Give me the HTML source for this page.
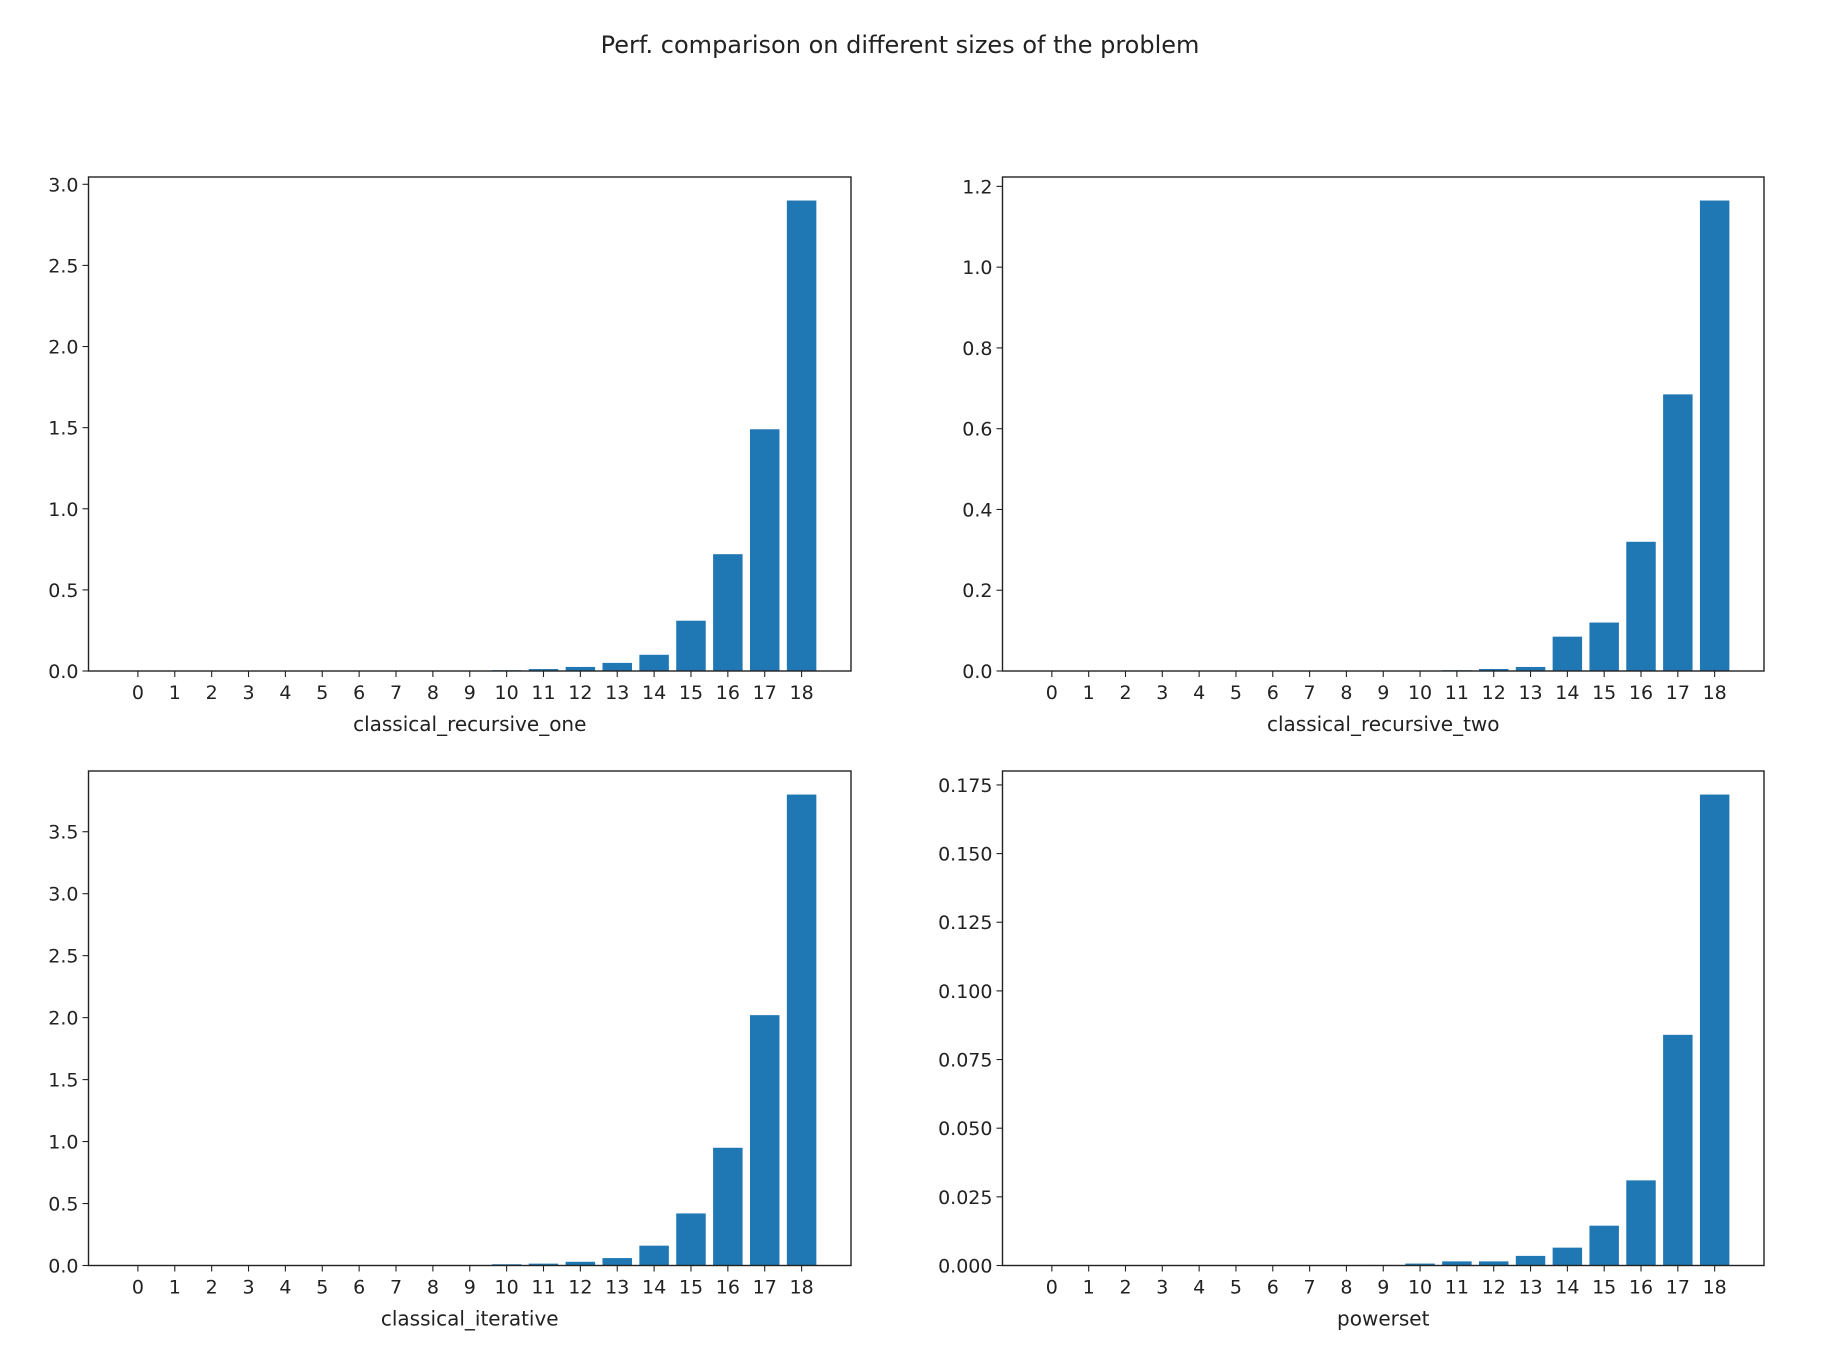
<!DOCTYPE html>
<html><head><meta charset="utf-8"><style>
html,body{margin:0;padding:0;background:#fff;}
svg{display:block;}
text{font-family:"DejaVu Sans","Liberation Sans",sans-serif;fill:#222;}
</style></head><body>
<svg id="fig" width="1822" height="1348" viewBox="0 0 1822 1348" xmlns="http://www.w3.org/2000/svg">
<text x="900" y="53" font-size="24" text-anchor="middle">Perf. comparison on different sizes of the problem</text>
</svg>
<script>
const categories = [0,1,2,3,4,5,6,7,8,9,10,11,12,13,14,15,16,17,18];
const recursiveOneValues = [0,0,0,0,0,0,0,0,0,0.002,0.005,0.012,0.025,0.05,0.10,0.31,0.72,1.49,2.90];
const recursiveTwoValues = [0,0,0,0,0,0,0,0,0,0,0.001,0.002,0.005,0.01,0.085,0.12,0.32,0.685,1.165];
const iterativeValues = [0,0,0,0,0,0,0,0,0,0.004,0.01,0.015,0.03,0.06,0.16,0.42,0.95,2.02,3.80];
const powersetValues = [0,0,0,0,0,0,0,0,0,0.0002,0.0007,0.0015,0.0015,0.0035,0.0065,0.0145,0.031,0.084,0.1715];
const recursiveOneTicks = [0,0.5,1.0,1.5,2.0,2.5,3.0];
const recursiveTwoTicks = [0,0.2,0.4,0.6,0.8,1.0,1.2];
const iterativeTicks = [0,0.5,1.0,1.5,2.0,2.5,3.0,3.5];
const powersetTicks = [0,0.025,0.05,0.075,0.1,0.125,0.15,0.175];
const panelTitles = ["classical_recursive_one","classical_recursive_two","classical_iterative","powerset"];

const NS="http://www.w3.org/2000/svg";
const svg=document.getElementById('fig');
function mk(tag,attrs,parent){const e=document.createElementNS(NS,tag);for(const k in attrs)e.setAttribute(k,attrs[k]);(parent||svg).appendChild(e);return e;}

function panel(slug,L,T,R,B,values,ticks,dec,label){
  const g=mk('g',{});
  
  
  const n=categories.length;
  const xmin=-0.4-(n-0.2)*0.05, xmax=(n-1)+0.4+(n-0.2)*0.05;
  const xs=v=>L+(v-xmin)/(xmax-xmin)*(R-L);
  const ymax=Math.max(...values)*1.05;
  const ys=v=>B-v/ymax*(B-T);
  values.forEach((v,i)=>{
    const x0=xs(categories[i]-0.4),x1=xs(categories[i]+0.4);
    const r=mk('rect',{x:x0,y:ys(v),width:x1-x0,height:Math.max(0,B-ys(v)),fill:'#1f77b4'},g);
    
    
  });
  const fr=mk('rect',{x:L,y:T,width:R-L,height:B-T,fill:'none',stroke:'#222','stroke-width':1.4},g);
  
  
  categories.forEach(c=>{
    const x=xs(c);
    mk('line',{x1:x,y1:B,x2:x,y2:B+6,stroke:'#222','stroke-width':1.1},g);
    const t=mk('text',{x:x,y:B+28,'font-size':19,'text-anchor':'middle'},g);
    t.textContent=String(c);
    
    
  });
  ticks.forEach(v=>{
    const y=ys(v);
    mk('line',{x1:L-6,y1:y,x2:L,y2:y,stroke:'#222','stroke-width':1.1},g);
    const t=mk('text',{x:L-10,y:y+7,'font-size':19,'text-anchor':'end'},g);
    t.textContent=v.toFixed(dec);
    
    
  });
  const xl=mk('text',{x:(L+R)/2,y:B+60,'font-size':20,'text-anchor':'middle'},g);
  xl.textContent=label;
  
  
}
panel('recursive-one',88.5,177,851,671,recursiveOneValues,recursiveOneTicks,1,panelTitles[0]);
panel('recursive-two',1002.5,177,1764,671,recursiveTwoValues,recursiveTwoTicks,1,panelTitles[1]);
panel('iterative',88.5,771,851,1265.5,iterativeValues,iterativeTicks,1,panelTitles[2]);
panel('powerset',1002.5,771,1764,1265.5,powersetValues,powersetTicks,3,panelTitles[3]);
</script>
</body></html>
